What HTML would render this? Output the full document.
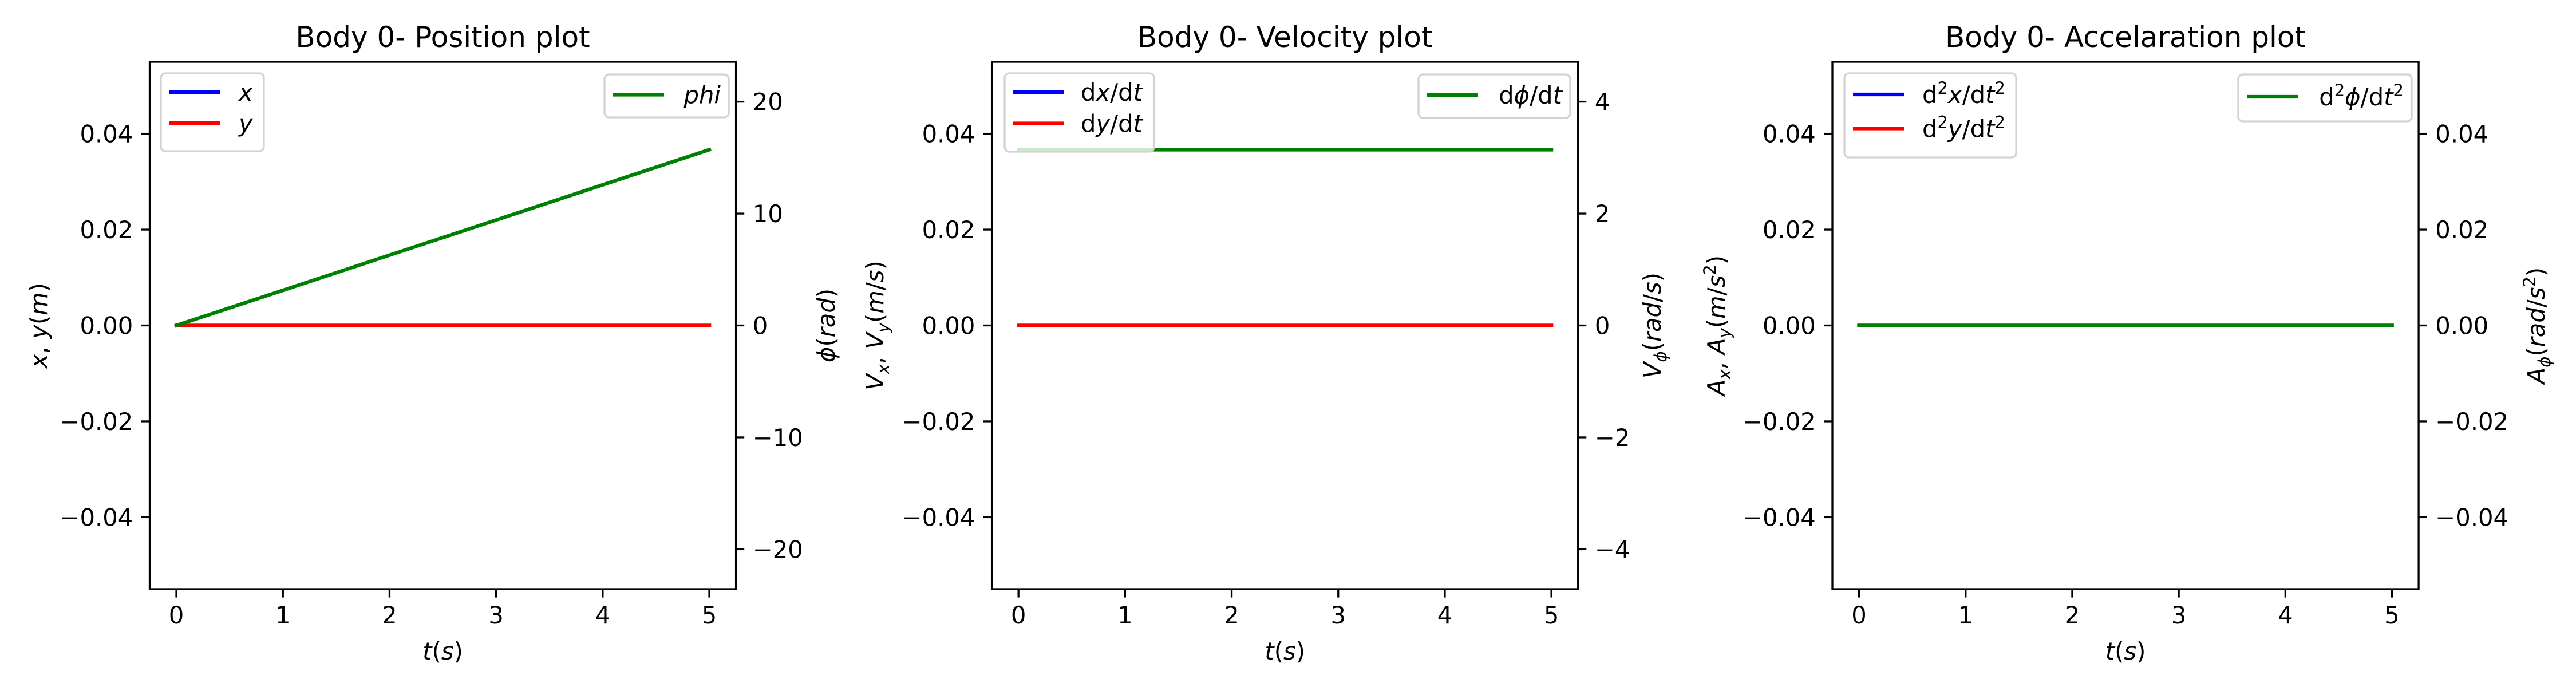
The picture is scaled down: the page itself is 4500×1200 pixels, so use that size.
<!DOCTYPE html>
<html><head><meta charset="utf-8"><style>
html,body{margin:0;padding:0;background:#fff;}
svg{display:block;font-family:"DejaVu Sans","Liberation Sans",sans-serif;}
</style></head><body>
<svg id="fig" xmlns="http://www.w3.org/2000/svg" width="4500" height="1200" viewBox="0 0 4500 1200">
<rect x="0" y="0" width="4500" height="1200" fill="#fff"/>
</svg>
<script>
// ---- data ----
const timeVals = [0, 1, 2, 3, 4, 5];
const posX = [0, 0, 0, 0, 0, 0];
const posY = [0, 0, 0, 0, 0, 0];
const posPhi = [0, 3.1416, 6.2832, 9.4248, 12.5664, 15.708];
const velX = [0, 0, 0, 0, 0, 0];
const velY = [0, 0, 0, 0, 0, 0];
const velPhi = [3.1416, 3.1416, 3.1416, 3.1416, 3.1416, 3.1416];
const accX = [0, 0, 0, 0, 0, 0];
const accY = [0, 0, 0, 0, 0, 0];
const accPhi = [0, 0, 0, 0, 0, 0];
const xTicks = [0, 1, 2, 3, 4, 5];
const leftTicks = [-0.04, -0.02, 0, 0.02, 0.04];
const leftTickLabels = ["\u22120.04", "\u22120.02", "0.00", "0.02", "0.04"];
const posRightTicks = [-20, -10, 0, 10, 20];
const posRightTickLabels = ["\u221220", "\u221210", "0", "10", "20"];
const velRightTicks = [-4, -2, 0, 2, 4];
const velRightTickLabels = ["\u22124", "\u22122", "0", "2", "4"];
const accRightTicks = [-0.04, -0.02, 0, 0.02, 0.04];
const accRightTickLabels = ["\u22120.04", "\u22120.02", "0.00", "0.02", "0.04"];

const NS = "http://www.w3.org/2000/svg";
const svg = document.getElementById('fig');
const FS = 41.7;
function mk(tag, attrs, parent) {
  const e = document.createElementNS(NS, tag);
  for (const k in attrs) e.setAttribute(k, attrs[k]);
  (parent || svg).appendChild(e);
  return e;
}
const TOP = 108, BOT = 1029;
const panels = [
  {key:'position', left:261.5, title:'Body 0- Position plot',
   series:[posX,posY], phi:posPhi, lLim:0.055, rLim:23.562,
   rTicks:posRightTicks, rLabels:posRightTickLabels,
   yl:67, yr:1443,
   ylText:'<tspan font-style="italic">x</tspan>, <tspan font-style="italic">y</tspan>(<tspan font-style="italic">m</tspan>)',
   yrText:'<tspan font-style="italic">ϕ</tspan>(<tspan font-style="italic">rad</tspan>)',
   legL:{x:281,y:128,w:180,h:136,tx:417,items:['<tspan font-style="italic">x</tspan>','<tspan font-style="italic">y</tspan>']},
   legR:{x:1056,y:130,w:217,h:75,item:'<tspan font-style="italic">phi</tspan>'}},
  {key:'velocity', left:1732.6, title:'Body 0- Velocity plot',
   series:[velX,velY], phi:velPhi, lLim:0.055, rLim:4.712,
   rTicks:velRightTicks, rLabels:velRightTickLabels,
   yl:1528, yr:2886,
   ylText:'<tspan font-style="italic">V</tspan><tspan font-style="italic" font-size="29" dy="10">x</tspan><tspan dy="-10">, </tspan><tspan font-style="italic">V</tspan><tspan font-style="italic" font-size="29" dy="10">y</tspan><tspan dy="-10">(</tspan><tspan font-style="italic">m</tspan>/<tspan font-style="italic">s</tspan>)',
   yrText:'<tspan font-style="italic">V</tspan><tspan font-style="italic" font-size="29" dy="10">ϕ</tspan><tspan dy="-10">(</tspan><tspan font-style="italic">rad</tspan>/<tspan font-style="italic">s</tspan>)',
   legL:{x:1755,y:128,w:261,h:137,tx:1888,items:['d<tspan font-style="italic">x</tspan>/d<tspan font-style="italic">t</tspan>','d<tspan font-style="italic">y</tspan>/d<tspan font-style="italic">t</tspan>']},
   legR:{x:2478,y:130,w:265,h:76,item:'d<tspan font-style="italic">ϕ</tspan>/d<tspan font-style="italic">t</tspan>'}},
  {key:'acceleration', left:3201, title:'Body 0- Accelaration plot',
   series:[accX,accY], phi:accPhi, lLim:0.055, rLim:0.055,
   rTicks:accRightTicks, rLabels:accRightTickLabels,
   yl:2998, yr:4430,
   ylText:'<tspan font-style="italic">A</tspan><tspan font-style="italic" font-size="29" dy="10">x</tspan><tspan dy="-10">, </tspan><tspan font-style="italic">A</tspan><tspan font-style="italic" font-size="29" dy="10">y</tspan><tspan dy="-10">(</tspan><tspan font-style="italic">m</tspan>/<tspan font-style="italic">s</tspan><tspan font-size="29" dy="-16">2</tspan><tspan dy="16">)</tspan>',
   yrText:'<tspan font-style="italic">A</tspan><tspan font-style="italic" font-size="29" dy="10">ϕ</tspan><tspan dy="-10">(</tspan><tspan font-style="italic">rad</tspan>/<tspan font-style="italic">s</tspan><tspan font-size="29" dy="-16">2</tspan><tspan dy="16">)</tspan>',
   legL:{x:3222,y:128,w:300,h:147,tx:3358,items:['d<tspan font-size="29" dy="-16">2</tspan><tspan dy="16" font-style="italic">x</tspan>/d<tspan font-style="italic">t</tspan><tspan font-size="29" dy="-16">2</tspan>','d<tspan font-size="29" dy="-16">2</tspan><tspan dy="16" font-style="italic">y</tspan>/d<tspan font-style="italic">t</tspan><tspan font-size="29" dy="-16">2</tspan>']},
   legR:{x:3910,y:130,w:303,h:82,item:'d<tspan font-size="29" dy="-16">2</tspan><tspan dy="16" font-style="italic">ϕ</tspan>/d<tspan font-style="italic">t</tspan><tspan font-size="29" dy="-16">2</tspan>'}}
];
const UNIT = 186.2;
panels.forEach(p => {
  const g = mk('g', {});
  
  
  const L = p.left, R = L + 5.5 * UNIT;
  const xs = v => L + (v + 0.25) * UNIT;
  const mid = (TOP + BOT) / 2, half = (BOT - TOP) / 2;
  const yl = v => mid - v / p.lLim * half;
  const yr = v => mid - v / p.rLim * half;
  // title
  const t = mk('text', {x:(L+R)/2, y:82, 'text-anchor':'middle', 'font-size':50}, g);
  t.textContent = p.title;
  
  
  // data lines
  const colors = ['#0000ff', '#ff0000'];
  p.series.forEach((s, i) => {
    const pl = mk('polyline', {points: timeVals.map((tv, j) => xs(tv) + ',' + yl(s[j])).join(' '), fill:'none', stroke:colors[i], 'stroke-width':6.25, 'stroke-linecap':'square'}, g);
    
    
  });
  const ph = mk('polyline', {points: timeVals.map((tv, j) => xs(tv) + ',' + yr(p.phi[j])).join(' '), fill:'none', stroke:'#008000', 'stroke-width':6.25, 'stroke-linecap':'square'}, g);
  
  
  // frame
  const fr = mk('rect', {x:L, y:TOP, width:R-L, height:BOT-TOP, fill:'none', stroke:'#000', 'stroke-width':3.3}, g);
  
  
  // x ticks
  xTicks.forEach(v => {
    const X = xs(v);
    const tk = mk('line', {x1:X, x2:X, y1:BOT, y2:BOT+14.6, stroke:'#000', 'stroke-width':3.3}, g);
    
    
    const tl = mk('text', {x:X, y:1089, 'text-anchor':'middle', 'font-size':FS}, g);
    tl.textContent = String(v);
    
    
  });
  leftTicks.forEach((v, i) => {
    const Y = yl(v);
    const tk = mk('line', {x1:L-14.6, x2:L, y1:Y, y2:Y, stroke:'#000', 'stroke-width':3.3}, g);
    
    
    const tl = mk('text', {x:L-29.2, y:Y+15, 'text-anchor':'end', 'font-size':FS}, g);
    tl.textContent = leftTickLabels[i];
    
    
  });
  p.rTicks.forEach((v, i) => {
    const Y = yr(v);
    const tk = mk('line', {x1:R, x2:R+14.6, y1:Y, y2:Y, stroke:'#000', 'stroke-width':3.3}, g);
    
    
    const tl = mk('text', {x:R+29.2, y:Y+15, 'text-anchor':'start', 'font-size':FS}, g);
    tl.textContent = p.rLabels[i];
    
    
  });
  // axis labels
  const xl = mk('text', {x:(L+R)/2, y:1152, 'text-anchor':'middle', 'font-size':FS}, g);
  xl.innerHTML = '<tspan font-style="italic">t</tspan>(<tspan font-style="italic">s</tspan>)';
  
  
  const yla = mk('text', {x:0, y:0, 'text-anchor':'middle', 'font-size':FS, transform:'translate(' + (p.yl + 15) + ',' + mid + ') rotate(-90)'}, g);
  yla.innerHTML = p.ylText;
  
  
  const yra = mk('text', {x:0, y:0, 'text-anchor':'middle', 'font-size':FS, transform:'translate(' + (p.yr + 15) + ',' + mid + ') rotate(-90)'}, g);
  yra.innerHTML = p.yrText;
  
  
  // left legend
  const a = p.legL;
  const lg = mk('g', {}, g);
  
  
  mk('rect', {x:a.x, y:a.y, width:a.w, height:a.h, rx:8, fill:'#fff', 'fill-opacity':0.8, stroke:'#d3d3d3', 'stroke-width':3.3}, lg);
  const step = (a.h - 28) / 2;
  a.items.forEach((it, i) => {
    const cy = a.y + 33 + step * i + (a.h > 140 ? 4 : 0);
    const ln = mk('line', {x1:a.x+15, x2:a.x+104, y1:cy, y2:cy, stroke:colors[i], 'stroke-width':6.25}, lg);
    
    
    const tx = mk('text', {x:a.tx, y:cy+15, 'font-size':FS}, lg);
    tx.innerHTML = it;
    
    
  });
  // right legend
  const b = p.legR;
  const rg = mk('g', {}, g);
  
  
  mk('rect', {x:b.x, y:b.y, width:b.w, height:b.h, rx:8, fill:'#fff', 'fill-opacity':0.8, stroke:'#d3d3d3', 'stroke-width':3.3}, rg);
  const cy = b.y + b.h / 2 - 2;
  const ln2 = mk('line', {x1:b.x+15, x2:b.x+104, y1:cy, y2:cy, stroke:'#008000', 'stroke-width':6.25}, rg);
  
  
  const tx2 = mk('text', {x:b.x+b.w-14, y:cy+15, 'text-anchor':'end', 'font-size':FS}, rg);
  tx2.innerHTML = b.item;
  
  
});
</script>
</body></html>
